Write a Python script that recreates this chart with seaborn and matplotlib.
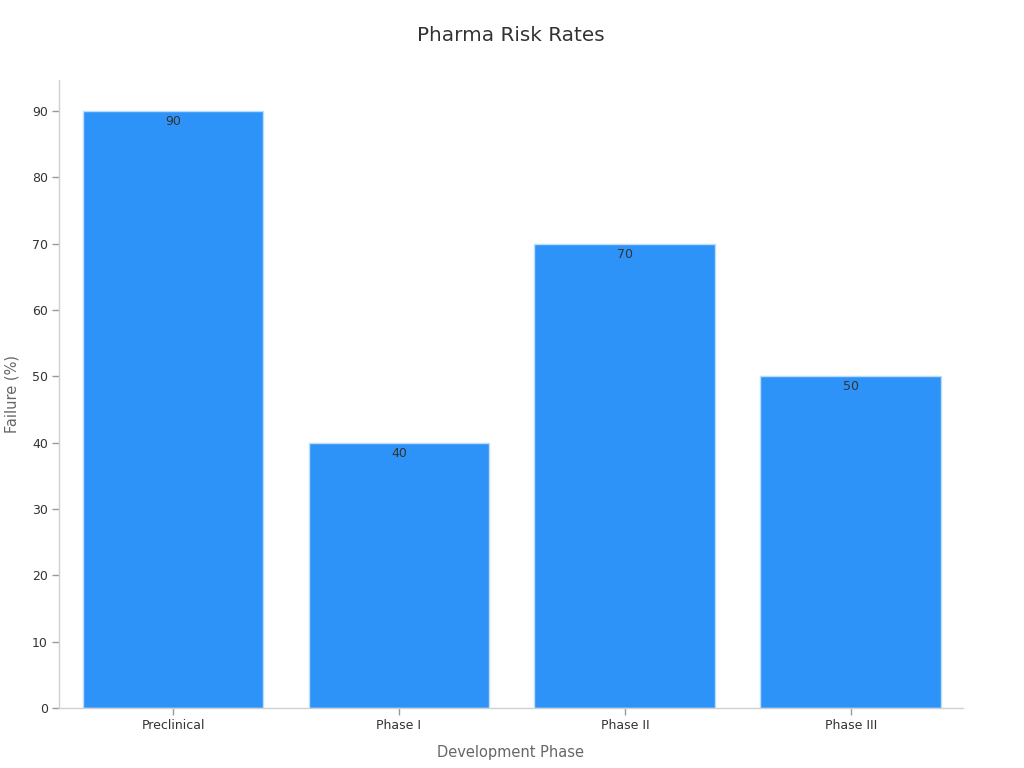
import matplotlib
matplotlib.use("Agg")
import matplotlib.pyplot as plt
import seaborn as sns
import pandas as pd

# data
phases = ["Preclinical", "Phase I", "Phase II", "Phase III"]
failure = [90, 40, 70, 50]

df = pd.DataFrame({"Phase": phases, "Failure": failure})

sns.set_theme(style="ticks")
plt.rcParams["font.family"] = ["DejaVu Sans"]

fig = plt.figure(figsize=(10.24, 7.68), dpi=100)
ax = fig.add_axes([0.0576, 0.078, 0.8824, 0.818])

sns.barplot(data=df, x="Phase", y="Failure", color="#2E93F8", saturation=1,
            width=0.8, edgecolor="#bcdcfb", linewidth=1, ax=ax)

for i, v in enumerate(failure):
    ax.text(i, v - 0.6, str(v), ha="center", va="top", fontsize=9, color="#333333")

ax.set_xlim(-0.505, 3.495)
ax.set_ylim(0, 94.7)
ax.set_yticks(range(0, 91, 10))

ax.set_title("Pharma Risk Rates", fontsize=14.4, color="#333333", pad=28)
ax.set_xlabel("Development Phase", fontsize=10.5, color="#666666", labelpad=9)
ax.set_ylabel("Failure (%)", fontsize=10.5, color="#666666", labelpad=9)

sns.despine(ax=ax)
for s in ["left", "bottom"]:
    ax.spines[s].set_color("#d0d0d0")
    ax.spines[s].set_linewidth(1)
ax.tick_params(axis="both", labelcolor="#333333", labelsize=9, length=5, width=1,
               color="#999999", pad=3)

fig.savefig("out.png", dpi=100)
